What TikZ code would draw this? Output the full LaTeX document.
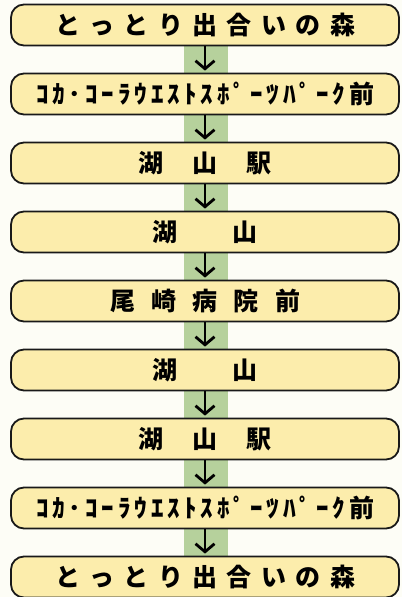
\documentclass[tikz,border=0pt]{standalone}
\usepackage{fontspec}
\newfontfamily\jpfont{Noto Sans CJK JP}[BoldFont={* Black}]
\usetikzlibrary{positioning,arrows.meta}
\definecolor{boxfill}{RGB}{252,237,172}
\definecolor{band}{RGB}{182,209,156}
\definecolor{paper}{RGB}{253,253,246}

\begin{document}
\begin{tikzpicture}[x=1pt,y=1pt,
  stop/.style={draw=black!90, line width=1.8pt, fill=boxfill, rounded corners=13pt,
    minimum width=388pt, minimum height=41pt, inner sep=0pt,
    font=\jpfont\bfseries\fontsize{25}{25}\selectfont},
  node distance=26.2pt,
  go/.style={-{Straight Barb[length=8pt,width=19pt]}, line width=2.8pt, shorten >=2pt}]

  \useasboundingbox[fill=paper] (0,0) rectangle (402,-597);

  % Green band behind the stops
  \fill[band] (184,-25) rectangle (228,-577);

  % --- Stops ---
  \node[stop] (s1) at (205,-25) {\makebox[300pt][s]{と っ と り 出 合 い の 森}};
  \node[stop, below=of s1] (s2) {\makebox[338pt][s]{ｺ ｶ ･ ｺ ｰ ﾗ ｳ ｴ ｽ ﾄ ｽ ﾎ ﾟ ｰ ﾂ ﾊ ﾟ ｰ ｸ 前}};
  \node[stop, below=of s2] (s3) {\makebox[133pt][s]{湖 山 駅}};
  \node[stop, below=of s3] (s4) {\makebox[105pt][s]{湖 山}};
  \node[stop, below=of s4] (s5) {\makebox[190pt][s]{尾 崎 病 院 前}};
  \node[stop, below=of s5] (s6) {\makebox[105pt][s]{湖 山}};
  \node[stop, below=of s6] (s7) {\makebox[133pt][s]{湖 山 駅}};
  \node[stop, below=of s7] (s8) {\makebox[338pt][s]{ｺ ｶ ･ ｺ ｰ ﾗ ｳ ｴ ｽ ﾄ ｽ ﾎ ﾟ ｰ ﾂ ﾊ ﾟ ｰ ｸ 前}};
  \node[stop, below=of s8] (s9) {\makebox[300pt][s]{と っ と り 出 合 い の 森}};

  % --- Arrows ---
  \foreach \a/\b in {s1/s2,s2/s3,s3/s4,s4/s5,s5/s6,s6/s7,s7/s8,s8/s9}
    \draw[go] (\a) -- (\b);
\end{tikzpicture}
\end{document}
